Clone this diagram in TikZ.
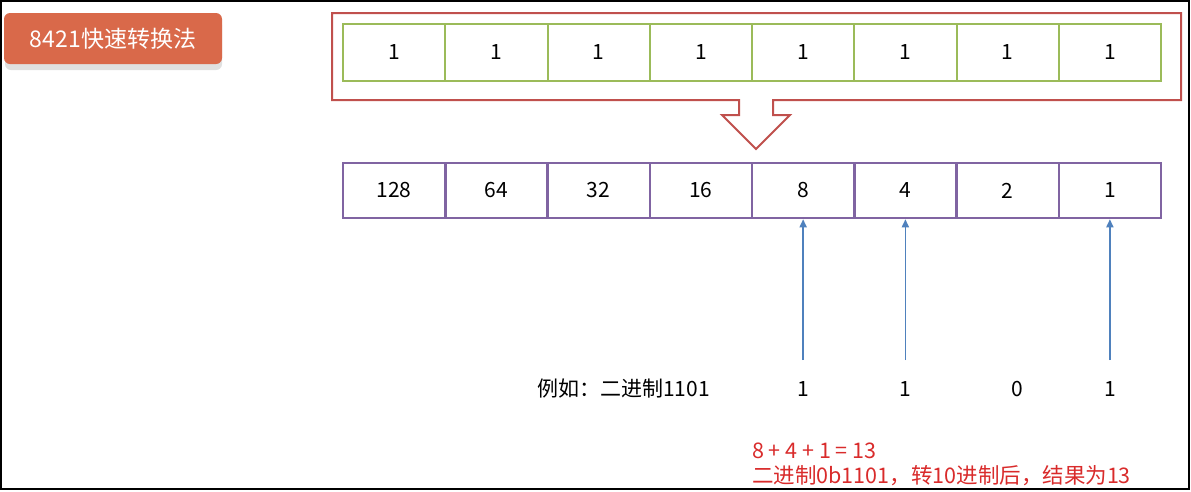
\documentclass[tikz,border=0pt]{standalone}
\usepackage{fontspec}
\setmainfont{Noto Sans CJK SC}
\usetikzlibrary{arrows.meta}
\definecolor{frameRed}{HTML}{C0504D}
\definecolor{cellGreen}{HTML}{9BBB59}
\definecolor{cellPurple}{HTML}{8064A2}
\definecolor{arrowBlue}{HTML}{4F81BD}
\definecolor{titleOrange}{HTML}{D9694A}
\definecolor{noteRed}{HTML}{D92B2B}
\tikzset{
  greencell/.style={draw=cellGreen, line width=2pt, minimum width=102.25pt, minimum height=57pt, inner sep=0pt, font=\fontsize{21}{24}\selectfont},
  purplecell/.style={draw=cellPurple, line width=2.5pt, minimum width=102.25pt, minimum height=55pt, inner sep=0pt, font=\fontsize{21}{24}\selectfont},
  bittext/.style={inner sep=0pt, font=\fontsize{21}{24}\selectfont},
  uparrow/.style={draw=arrowBlue, line width=1.6pt, -{Triangle[length=8pt,width=7pt]}},
}
\begin{document}
\begin{tikzpicture}[x=1pt,y=-1pt]
\useasboundingbox (0,0) rectangle (1191,491);
\fill[white] (0,0) rectangle (1191,491);
\draw[black, line width=2pt] (1,1) rectangle (1189,489);
% title
\fill[black!12, rounded corners=6pt] (5,19) rectangle (222,70);
\node[fill=titleOrange, rounded corners=6pt, minimum width=218pt, minimum height=51pt, inner sep=0pt, text=white, font=\fontsize{23}{26}\selectfont] (title) at (113,38.5) {8421快速转换法};
% red frame with arrow
\draw[frameRed, line width=2pt, line join=miter]
  (332,13) -- (1181,13) -- (1181,100) -- (773,100) -- (773,115) -- (790,115)
  -- (756,149) -- (722,115) -- (739,115) -- (739,100) -- (332,100) -- cycle;
% cells
\foreach \i in {1,...,8} {
  \node[greencell] (g\i) at ({343+(\i-0.5)*102.25},52.5) {1};
}
\foreach \i/\v in {1/128,2/64,3/32,4/16,5/8,6/4,7/2,8/1} {
  \node[purplecell] (p\i) at ({343+(\i-0.5)*102.25},190.5) {\v};
}
% example
\node[bittext, anchor=west] (ex) at (537,389) {例如：二进制1101};
\node[bittext] (b5) at (p5.south |- 0,389) {1};
\node[bittext] (b6) at (p6.south |- 0,389) {1};
\node[bittext] (b7) at (1017,389) {0};
\node[bittext] (b8) at (p8.south |- 0,389) {1};
\draw[uparrow, shorten <=29pt] (b5.center) -- (p5.south);
\draw[uparrow, shorten <=29pt] (b6.center) -- (p6.south);
\draw[uparrow, shorten <=29pt] (b8.center) -- (p8.south);
% result
\node[anchor=north west, inner sep=0pt, text=noteRed, align=left, font=\fontsize{21.5}{25}\selectfont] (res) at (752,443) {8 + 4 + 1 = 13\\二进制0b1101，转10进制后，结果为13};
\end{tikzpicture}
\end{document}
